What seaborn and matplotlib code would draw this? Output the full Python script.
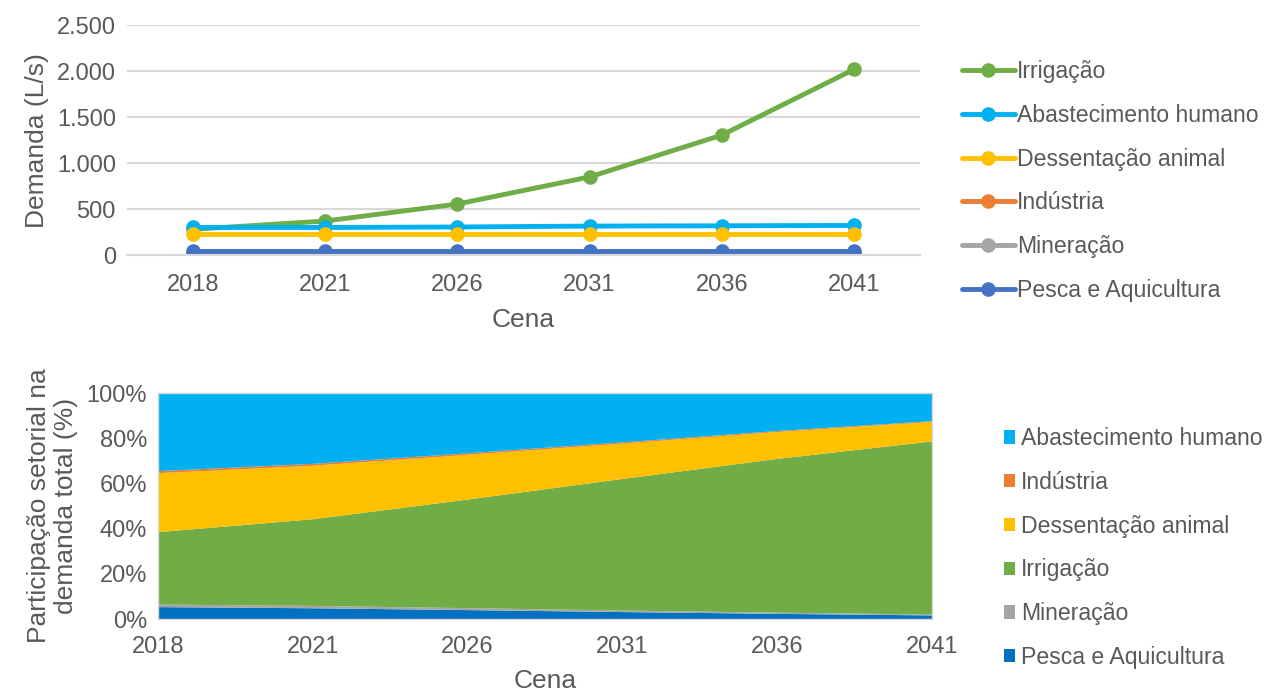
import numpy as np
import pandas as pd
import seaborn as sns
import matplotlib.pyplot as plt
from matplotlib.ticker import FuncFormatter
from matplotlib.lines import Line2D
from matplotlib.patches import Patch

# Dados (L/s)
cenas = ["2018", "2021", "2026", "2031", "2036", "2041"]
irrigacao = [280, 370, 555, 850, 1305, 2020]
abastecimento = [300, 300, 305, 315, 318, 322]
dessentacao = [228, 228, 228, 228, 228, 228]
industria = [8, 8, 8, 8, 8, 8]
mineracao = [10, 10, 10, 10, 10, 10]
pesca = [48, 48, 48, 48, 48, 48]

setores = ["Irrigação", "Abastecimento humano", "Dessentação animal",
           "Indústria", "Mineração", "Pesca e Aquicultura"]
cores = {"Irrigação": "#70AD47", "Abastecimento humano": "#00B0F0",
         "Dessentação animal": "#FFC000", "Indústria": "#ED7D31",
         "Mineração": "#A5A5A5", "Pesca e Aquicultura": "#4472C4"}

df = pd.DataFrame({"Cena": cenas, "Irrigação": irrigacao,
                   "Abastecimento humano": abastecimento,
                   "Dessentação animal": dessentacao, "Indústria": industria,
                   "Mineração": mineracao, "Pesca e Aquicultura": pesca})
df["pos"] = np.arange(len(cenas))
longo = df.melt(id_vars=["Cena", "pos"], var_name="Setor", value_name="Demanda")

sns.set_style("white")
plt.rcParams["font.family"] = ["Liberation Sans", "DejaVu Sans"]
cinza = "#595959"
tam_tick = 17
tam_leg = 16.6
tam_rot = 19

fig = plt.figure(figsize=(12.75, 6.96), dpi=100)

# 1. Linhas de demanda
ax1 = fig.add_axes([0.0996, 0.6336, 0.622, 0.330])
sns.lineplot(data=longo, x="pos", y="Demanda", hue="Setor", hue_order=setores,
             palette=cores, marker="o", markersize=10.5, markeredgewidth=0,
             linewidth=3.5, legend=False, ax=ax1)
ax1.set_xlim(-0.5, 5.5)
ax1.set_ylim(0, 2500)
ax1.set_yticks([0, 500, 1000, 1500, 2000, 2500])
ax1.yaxis.set_major_formatter(FuncFormatter(lambda v, p: f"{int(v):,}".replace(",", ".")))
ax1.set_xticks(np.arange(len(cenas)))
ax1.set_xticklabels(cenas)
ax1.set_xticks(np.arange(-0.5, 6, 1), minor=True)
ax1.tick_params(axis="x", which="major", length=0, pad=14)
ax1.tick_params(axis="x", which="minor", length=6, color="#D9D9D9", width=1.5)
ax1.tick_params(axis="y", length=0, pad=8)
ax1.tick_params(labelsize=tam_tick, labelcolor=cinza)
ax1.grid(axis="y", color="#D9D9D9", linewidth=1.5)
for s in ["left", "right", "top"]:
    ax1.spines[s].set_visible(False)
ax1.spines["bottom"].set_color("#D9D9D9")
ax1.spines["bottom"].set_linewidth(1.5)
ax1.set_axisbelow(True)
ax1.set_xlabel("Cena", fontsize=tam_rot, color=cinza, labelpad=8)
ax1.set_ylabel("Demanda (L/s)", fontsize=tam_rot, color=cinza, labelpad=6)

handles1 = [Line2D([0], [0], color=cores[s], linewidth=3.5, marker="o",
                   markersize=10.5, markeredgewidth=0) for s in setores]
fig.legend(handles1, setores, loc="center left", bbox_to_anchor=(0.747, 0.740),
           frameon=False, fontsize=tam_leg, handlelength=2.3, handletextpad=0.1,
           labelspacing=0.9, labelcolor=cinza, borderaxespad=0)

# 2. Participação setorial (área empilhada)
ordem = ["Pesca e Aquicultura", "Mineração", "Irrigação",
         "Dessentação animal", "Indústria", "Abastecimento humano"]
cores2 = dict(cores)
cores2["Pesca e Aquicultura"] = "#0070C0"
total = df[setores].sum(axis=1)
perc = df[ordem].div(total, axis=0) * 100

ax2 = fig.add_axes([0.124, 0.1106, 0.607, 0.3247])
ax2.stackplot(df["pos"], *[perc[s] for s in ordem],
              colors=[cores2[s] for s in ordem], linewidth=0)
ax2.set_xlim(0, 5)
ax2.set_ylim(0, 100)
ax2.set_yticks([0, 20, 40, 60, 80, 100])
ax2.yaxis.set_major_formatter(FuncFormatter(lambda v, p: f"{int(v)}%"))
ax2.set_xticks(np.arange(len(cenas)))
ax2.set_xticklabels(cenas)
ax2.tick_params(axis="x", length=6, color="#D9D9D9", width=1.5, pad=6)
ax2.tick_params(axis="y", length=0, pad=8)
ax2.tick_params(labelsize=tam_tick, labelcolor=cinza)
for s in ax2.spines.values():
    s.set_color("#D9D9D9")
    s.set_linewidth(1)
ax2.set_xlabel("Cena", fontsize=tam_rot, color=cinza, labelpad=8)
ax2.set_ylabel("Participação setorial na\ndemanda total (%)", fontsize=tam_rot,
               color=cinza, labelpad=6, linespacing=1.15)

legenda2 = ordem[::-1]
handles2 = [Patch(facecolor=cores2[s], edgecolor="none") for s in legenda2]
fig.legend(handles2, legenda2, loc="center left", bbox_to_anchor=(0.780, 0.2126),
           frameon=False, fontsize=tam_leg, handlelength=0.5, handleheight=0.5,
           handletextpad=0.25, labelspacing=0.9, labelcolor=cinza, borderaxespad=0)

fig.savefig("out.png", dpi=100)
